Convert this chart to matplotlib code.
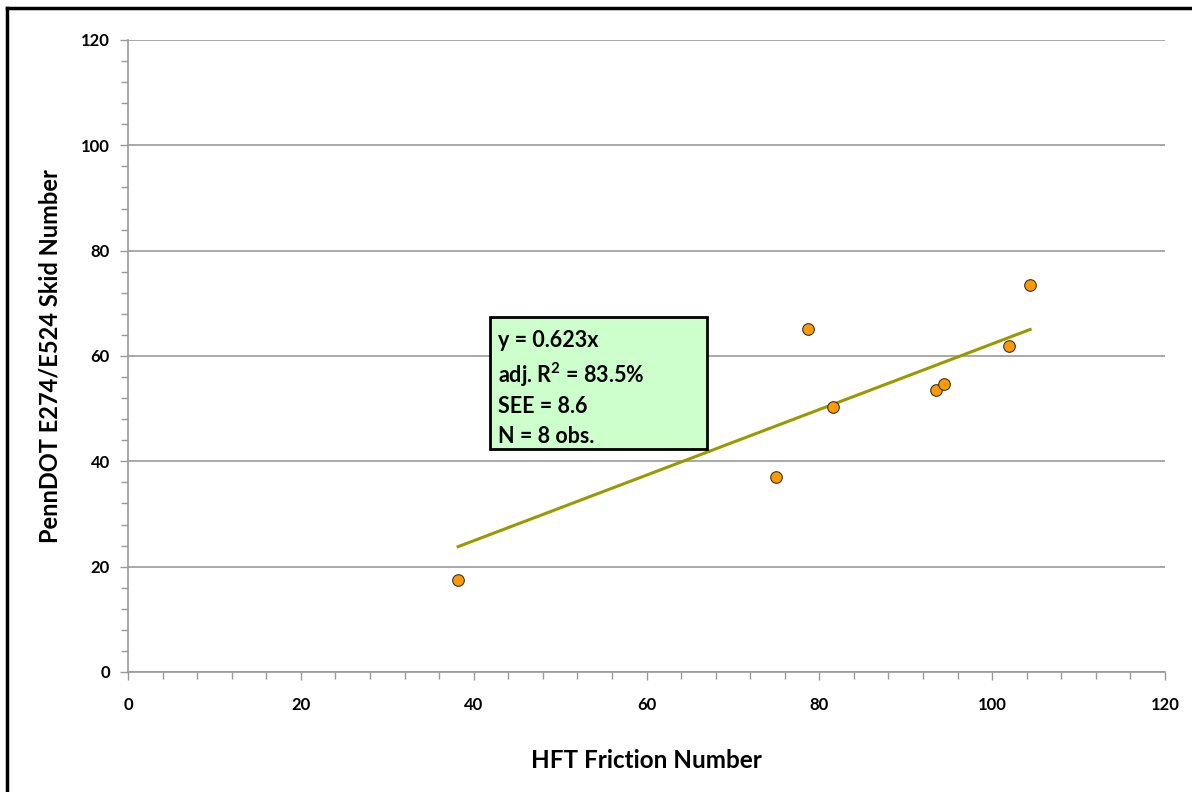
import matplotlib
matplotlib.use("Agg")
import matplotlib.pyplot as plt
from matplotlib.patches import Rectangle
from matplotlib.lines import Line2D
from matplotlib.ticker import MultipleLocator

plt.rcParams['font.family'] = ['Lato', 'DejaVu Sans']
plt.rcParams['mathtext.default'] = 'regular'

hft = [38.2, 75.0, 78.7, 81.6, 93.5, 94.4, 101.9, 104.4]
skid = [17.5, 37.0, 65.1, 50.3, 53.5, 54.7, 61.9, 73.5]
slope = 0.623
fit_x = [38.2, 104.4]
fit_y = [slope * v for v in fit_x]
stats_lines = ["y = 0.623x", "adj. R$^2$ = 83.5%", "SEE = 8.6", "N = 8 obs."]

fig = plt.figure(figsize=(11.92, 7.92), dpi=100)
ax = fig.add_axes([128/1192, 1-672/792, (1165-128)/1192, (672-40)/792])

ax.set_xlim(0, 120)
ax.set_ylim(0, 120)
ax.xaxis.set_major_locator(MultipleLocator(20))
ax.xaxis.set_minor_locator(MultipleLocator(4))
ax.yaxis.set_major_locator(MultipleLocator(20))
ax.yaxis.set_minor_locator(MultipleLocator(4))
ax.grid(axis='y', which='major', color='#999999', lw=1.2)
ax.set_axisbelow(True)
for s in ['top', 'right']:
    ax.spines[s].set_visible(False)
for s in ['left', 'bottom']:
    ax.spines[s].set_color('#999999')
    ax.spines[s].set_linewidth(1.2)
ax.tick_params(which='both', direction='out', color='#999999', width=1.0)
ax.tick_params(which='major', length=6, labelsize=12)
ax.tick_params(which='minor', length=5)
ax.tick_params(axis='x', pad=12)
ax.tick_params(axis='y', pad=7)
for lab in ax.get_xticklabels() + ax.get_yticklabels():
    lab.set_fontweight('bold')

ax.plot(fit_x, fit_y, color='#999900', lw=2.2, zorder=3)
ax.scatter(hft, skid, s=70, color='#FF9900', edgecolors='#333333', linewidths=0.8, zorder=4)

ax.add_patch(Rectangle((41.9, 42.3), 25.1, 25.1, facecolor='#CCFFCC', edgecolor='black', lw=2, zorder=5))
ys = [63.0, 56.5, 50.5, 44.7]
for t, y in zip(stats_lines, ys):
    ax.text(42.8, y, t, fontsize=15.5, fontweight='bold', va='center', ha='left', zorder=6)

ax.set_xlabel("HFT Friction Number", fontsize=17.5, fontweight='bold', labelpad=26)
ax.set_ylabel("PennDOT E274/E524 Skid Number", fontsize=17, fontweight='bold', labelpad=14)

fig.add_artist(Line2D([7/1192, 7/1192], [0, 1-8/792], color='black', lw=2.5, transform=fig.transFigure))
fig.add_artist(Line2D([7/1192, 1], [1-8/792, 1-8/792], color='black', lw=2.5, transform=fig.transFigure))

fig.savefig("out.png", dpi=100)
